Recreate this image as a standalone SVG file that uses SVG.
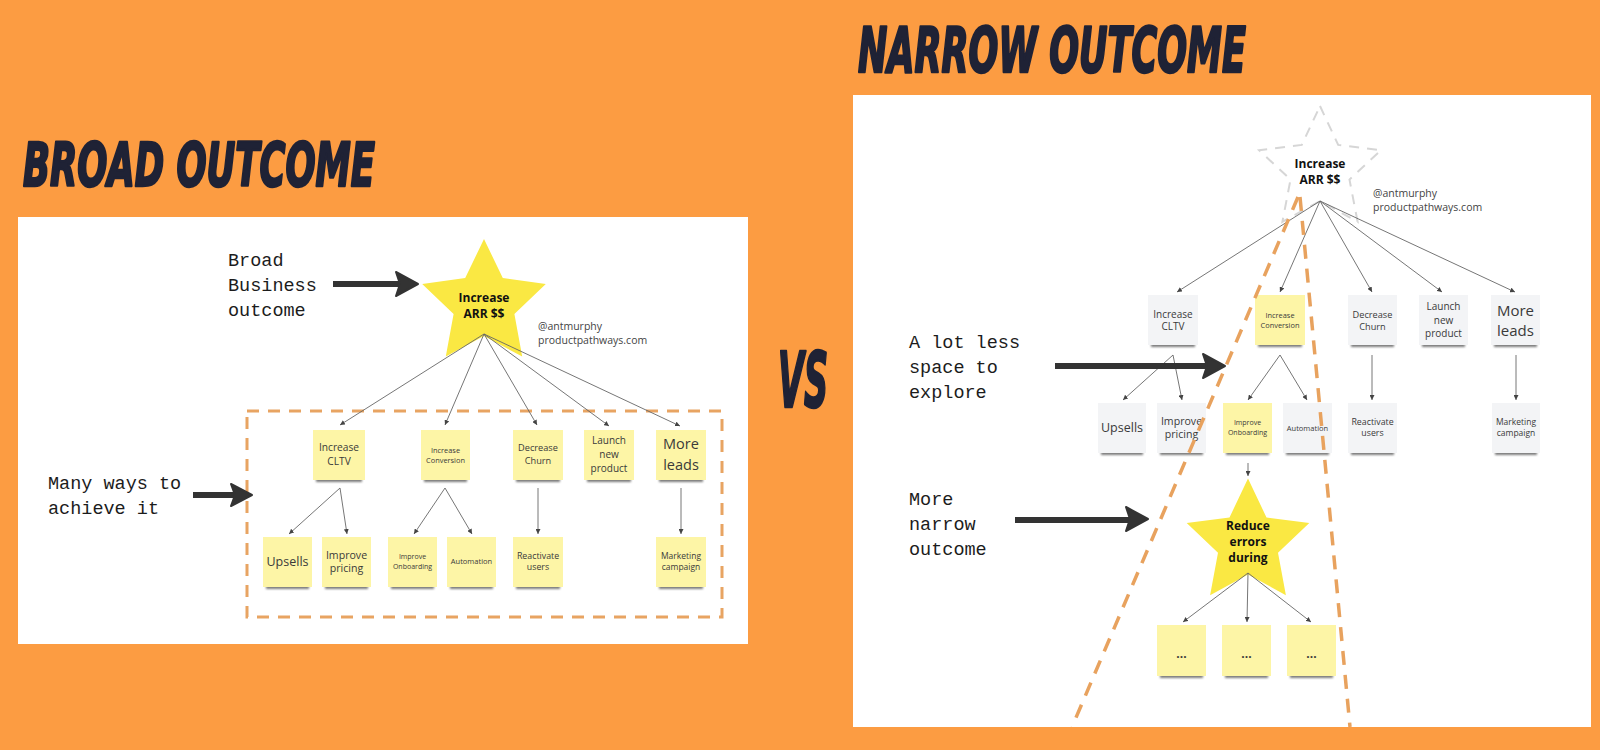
<svg xmlns="http://www.w3.org/2000/svg" width="1600" height="750" viewBox="0 0 1600 750">
<defs>
<style>
.title{font-family:"DejaVu Sans Condensed","DejaVu Sans",sans-serif;font-weight:bold;font-style:italic;font-stretch:condensed;fill:#1F2235;stroke:#1F2235;stroke-width:2.5;stroke-linejoin:round}
.mono{font-family:"Liberation Mono","DejaVu Sans Mono",monospace;font-size:18.5px;fill:#1c1c1c}
.st{font-family:"Open Sans","Noto Sans",sans-serif;fill:#3a3a3a;text-anchor:middle}
.sb{font-family:"Open Sans","Noto Sans",sans-serif;font-weight:bold;fill:#111;text-anchor:middle}
.handle{font-family:"Open Sans","Noto Sans",sans-serif;font-size:10.5px;fill:#444}
.y{fill:#FDF5A6}
.g{fill:#F3F4F6}
.sh{fill:#444;opacity:.7;filter:url(#blur)}
.conn line{stroke:#666;stroke-width:0.9;marker-end:url(#ah)}
.big line{stroke:#333;stroke-width:6}
.big path{fill:#333;stroke:#333;stroke-width:2;stroke-linejoin:round}
.dash{fill:none;stroke:#E8A462;stroke-width:3;stroke-dasharray:12 9}
.funnel{fill:none;stroke:#E8A25E;stroke-width:3.5;stroke-dasharray:14 10}
</style>
<filter id="blur" x="-20%" y="-100%" width="140%" height="300%"><feGaussianBlur stdDeviation="1.3"/></filter>
<marker id="ah" viewBox="0 0 6 6" refX="6" refY="3" markerWidth="5" markerHeight="5" markerUnits="userSpaceOnUse" orient="auto"><path d="M0,0 L6,3 L0,6 Z" fill="#444"/></marker>
</defs>

<rect x="0" y="0" width="1600" height="750" fill="#FC9C42"/>

<!-- Titles -->
<text id="title-broad" class="title" x="23" y="186" font-size="60" textLength="352" lengthAdjust="spacingAndGlyphs">BROAD OUTCOME</text>
<text id="title-narrow" class="title" x="858" y="72" font-size="63" textLength="388" lengthAdjust="spacingAndGlyphs">NARROW OUTCOME</text>
<text id="vs" class="title" x="778" y="407" font-size="76" textLength="50" lengthAdjust="spacingAndGlyphs">VS</text>

<!-- Left panel -->
<rect id="left-panel" x="18" y="217" width="730" height="427" fill="#fff"/>
<rect id="broad-box" class="dash" x="247" y="411" width="475" height="206"/>

<g id="label-broad">
<text class="mono" x="228" y="266">Broad</text>
<text class="mono" x="228" y="291">Business</text>
<text class="mono" x="228" y="316">outcome</text>
</g>
<g id="label-many">
<text class="mono" x="48" y="489">Many ways to</text>
<text class="mono" x="48" y="514">achieve it</text>
</g>

<g id="star-left">
<path d="M484,239 L502.8,278.1 L545.8,283.9 L514.4,313.9 L522.2,356.6 L484,336 L445.8,356.6 L453.6,313.9 L422.2,283.9 L465.2,278.1 Z" fill="#FAE843"/>
<text class="sb" x="484" y="302" font-size="12">Increase</text>
<text class="sb" x="484" y="318" font-size="12">ARR $$</text>
</g>
<g id="handle-left">
<text class="handle" x="538" y="330">@antmurphy</text>
<text class="handle" x="538" y="344">productpathways.com</text>
</g>

<g id="l-cltv"><rect class="sh" x="316" y="477" width="46" height="5"/><rect class="y" x="313" y="430" width="52" height="50"/>
<text class="st" x="339" y="450.5" font-size="10.2">Increase</text><text class="st" x="339" y="464.5" font-size="10.2">CLTV</text></g>
<g id="l-conv"><rect class="sh" x="424" y="477" width="43" height="5"/><rect class="y" x="421" y="430" width="49" height="50"/>
<text class="st" x="445.5" y="452.6" font-size="7.4">Increase</text><text class="st" x="445.5" y="462.6" font-size="7.4">Conversion</text></g>
<g id="l-churn"><rect class="sh" x="516" y="477" width="44" height="5"/><rect class="y" x="513" y="430" width="50" height="50"/>
<text class="st" x="538" y="451" font-size="9.2">Decrease</text><text class="st" x="538" y="464" font-size="9.2">Churn</text></g>
<g id="l-launch"><rect class="sh" x="587" y="477" width="44" height="5"/><rect class="y" x="584" y="430" width="50" height="50"/>
<text class="st" x="609" y="443.5" font-size="10">Launch</text><text class="st" x="609" y="457.5" font-size="10">new</text><text class="st" x="609" y="471.5" font-size="10">product</text></g>
<g id="l-leads"><rect class="sh" x="659" y="477" width="44" height="5"/><rect class="y" x="656" y="430" width="50" height="50"/>
<text class="st" x="681" y="449" font-size="14.5">More</text><text class="st" x="681" y="470" font-size="14.5">leads</text></g>

<g id="l-upsells"><rect class="sh" x="266" y="584" width="43" height="5"/><rect class="y" x="263" y="537" width="49" height="50"/>
<text class="st" x="287.5" y="566" font-size="12.5">Upsells</text></g>
<g id="l-pricing"><rect class="sh" x="325" y="584" width="43" height="5"/><rect class="y" x="322" y="537" width="49" height="50"/>
<text class="st" x="346.5" y="559" font-size="10.6">Improve</text><text class="st" x="346.5" y="572" font-size="10.6">pricing</text></g>
<g id="l-onboard"><rect class="sh" x="391" y="584" width="43" height="5"/><rect class="y" x="388" y="537" width="49" height="50"/>
<text class="st" x="412.5" y="559" font-size="7">Improve</text><text class="st" x="412.5" y="568.5" font-size="7">Onboarding</text></g>
<g id="l-auto"><rect class="sh" x="450" y="584" width="43" height="5"/><rect class="y" x="447" y="537" width="49" height="50"/>
<text class="st" x="471.5" y="564.3" font-size="7.5">Automation</text></g>
<g id="l-react"><rect class="sh" x="516" y="584" width="44" height="5"/><rect class="y" x="513" y="537" width="50" height="50"/>
<text class="st" x="538" y="558.7" font-size="8.8">Reactivate</text><text class="st" x="538" y="570.3" font-size="8.8">users</text></g>
<g id="l-mkt"><rect class="sh" x="659" y="584" width="44" height="5"/><rect class="y" x="656" y="537" width="50" height="50"/>
<text class="st" x="681" y="558.7" font-size="8.5">Marketing</text><text class="st" x="681" y="570.3" font-size="8.5">campaign</text></g>

<g id="connectors-left" class="conn">
<line x1="484" y1="334" x2="340" y2="425"/>
<line x1="484" y1="334" x2="445" y2="425"/>
<line x1="484" y1="334" x2="537" y2="425"/>
<line x1="484" y1="334" x2="609" y2="426"/>
<line x1="484" y1="334" x2="680" y2="426"/>
<line x1="340" y1="488" x2="289" y2="534"/>
<line x1="340" y1="488" x2="347" y2="534"/>
<line x1="445" y1="488" x2="414" y2="534"/>
<line x1="445" y1="488" x2="472" y2="534"/>
<line x1="538" y1="488" x2="538" y2="534"/>
<line x1="681" y1="488" x2="681" y2="534"/>
</g>

<g id="big-arrows-left" class="big">
<line x1="333" y1="284" x2="402" y2="284"/>
<path d="M418,284 L396,272 L400,284 L396,296 Z"/>
<line x1="193" y1="495" x2="236" y2="495"/>
<path d="M252,495 L231,484 L235,495 L231,506 Z"/>
</g>

<!-- Right panel -->
<rect id="right-panel" x="853" y="95" width="738" height="632" fill="#fff"/>

<g id="label-space">
<text class="mono" x="909" y="348">A lot less</text>
<text class="mono" x="909" y="373">space to</text>
<text class="mono" x="909" y="398">explore</text>
</g>
<g id="label-narrow">
<text class="mono" x="909" y="505">More</text>
<text class="mono" x="909" y="530">narrow</text>
<text class="mono" x="909" y="555">outcome</text>
</g>

<g id="star-right">
<path d="M1320,106 L1338.2,144.9 L1380.9,150.2 L1349.5,179.6 L1357.6,221.8 L1320,201 L1282.4,221.8 L1290.5,179.6 L1259.1,150.2 L1301.8,144.9 Z" fill="none" stroke="#D6D6D6" stroke-width="2" stroke-dasharray="10 8"/>
<text class="sb" x="1320" y="167.5" font-size="12">Increase</text>
<text class="sb" x="1320" y="183.5" font-size="12">ARR $$</text>
</g>
<g id="handle-right">
<text class="handle" x="1373" y="197">@antmurphy</text>
<text class="handle" x="1373" y="211">productpathways.com</text>
</g>

<g id="r-cltv"><rect class="sh" x="1151" y="342" width="44" height="5"/><rect class="g" x="1148" y="295" width="50" height="50"/>
<text class="st" x="1173" y="317.5" font-size="10">Increase</text><text class="st" x="1173" y="330" font-size="10">CLTV</text></g>
<g id="r-conv"><rect class="sh" x="1258" y="342" width="44" height="5"/><rect class="y" x="1255" y="295" width="50" height="50"/>
<text class="st" x="1280" y="317.6" font-size="7.4">Increase</text><text class="st" x="1280" y="327.6" font-size="7.4">Conversion</text></g>
<g id="r-churn"><rect class="sh" x="1351" y="342" width="43" height="5"/><rect class="g" x="1348" y="295" width="49" height="50"/>
<text class="st" x="1372.5" y="317.5" font-size="9.2">Decrease</text><text class="st" x="1372.5" y="329.5" font-size="9.2">Churn</text></g>
<g id="r-launch"><rect class="sh" x="1422" y="342" width="43" height="5"/><rect class="g" x="1419" y="295" width="49" height="50"/>
<text class="st" x="1443.5" y="310" font-size="10">Launch</text><text class="st" x="1443.5" y="323.5" font-size="10">new</text><text class="st" x="1443.5" y="337" font-size="10">product</text></g>
<g id="r-leads"><rect class="sh" x="1494" y="342" width="43" height="5"/><rect class="g" x="1491" y="295" width="49" height="50"/>
<text class="st" x="1515.5" y="316" font-size="15">More</text><text class="st" x="1515.5" y="336" font-size="15">leads</text></g>

<g id="r-upsells"><rect class="sh" x="1101" y="450" width="42" height="5"/><rect class="g" x="1098" y="403" width="48" height="50"/>
<text class="st" x="1122" y="432" font-size="12.5">Upsells</text></g>
<g id="r-pricing"><rect class="sh" x="1160" y="450" width="43" height="5"/><rect class="g" x="1157" y="403" width="49" height="50"/>
<text class="st" x="1181.5" y="424.5" font-size="10.6">Improve</text><text class="st" x="1181.5" y="438" font-size="10.6">pricing</text></g>
<g id="r-onboard"><rect class="sh" x="1226" y="450" width="43" height="5"/><rect class="y" x="1223" y="403" width="49" height="50"/>
<text class="st" x="1247.5" y="425" font-size="7">Improve</text><text class="st" x="1247.5" y="434.5" font-size="7">Onboarding</text></g>
<g id="r-auto"><rect class="sh" x="1286" y="450" width="43" height="5"/><rect class="g" x="1283" y="403" width="49" height="50"/>
<text class="st" x="1307.5" y="431" font-size="7.5">Automation</text></g>
<g id="r-react"><rect class="sh" x="1351" y="450" width="43" height="5"/><rect class="g" x="1348" y="403" width="49" height="50"/>
<text class="st" x="1372.5" y="424.7" font-size="8.8">Reactivate</text><text class="st" x="1372.5" y="436.3" font-size="8.8">users</text></g>
<g id="r-mkt"><rect class="sh" x="1495" y="450" width="42" height="5"/><rect class="g" x="1492" y="403" width="48" height="50"/>
<text class="st" x="1516" y="424.7" font-size="8.5">Marketing</text><text class="st" x="1516" y="436.3" font-size="8.5">campaign</text></g>

<g id="star-reduce">
<path d="M1248,478.5 L1266.5,517.5 L1309.3,523.1 L1278,552.7 L1285.9,595.2 L1248,574.5 L1210.1,595.2 L1218,552.7 L1186.7,523.1 L1229.5,517.5 Z" fill="#FAE843"/>
<text class="sb" x="1248" y="530" font-size="12">Reduce</text>
<text class="sb" x="1248" y="546" font-size="12">errors</text>
<text class="sb" x="1248" y="562" font-size="12">during</text>
</g>

<g id="r-dots1"><rect class="sh" x="1160" y="673" width="43" height="5"/><rect class="y" x="1157" y="625" width="49" height="51"/>
<text class="st" x="1181.5" y="658" font-size="12" font-weight="bold" fill="#222">...</text></g>
<g id="r-dots2"><rect class="sh" x="1225" y="673" width="43" height="5"/><rect class="y" x="1222" y="625" width="49" height="51"/>
<text class="st" x="1246.5" y="658" font-size="12" font-weight="bold" fill="#222">...</text></g>
<g id="r-dots3"><rect class="sh" x="1290" y="673" width="43" height="5"/><rect class="y" x="1287" y="625" width="49" height="51"/>
<text class="st" x="1311.5" y="658" font-size="12" font-weight="bold" fill="#222">...</text></g>

<g id="connectors-right" class="conn">
<line x1="1320" y1="201" x2="1177" y2="292"/>
<line x1="1320" y1="201" x2="1280" y2="292"/>
<line x1="1320" y1="201" x2="1372" y2="292"/>
<line x1="1320" y1="201" x2="1442" y2="292"/>
<line x1="1320" y1="201" x2="1515" y2="292"/>
<line x1="1173" y1="355" x2="1123" y2="400"/>
<line x1="1173" y1="355" x2="1182" y2="400"/>
<line x1="1280" y1="355" x2="1248" y2="400"/>
<line x1="1280" y1="355" x2="1307" y2="400"/>
<line x1="1372" y1="355" x2="1372" y2="400"/>
<line x1="1516" y1="355" x2="1516" y2="400"/>
<line x1="1248" y1="463" x2="1248" y2="476"/>
<line x1="1248" y1="573" x2="1183" y2="622"/>
<line x1="1248" y1="573" x2="1247" y2="622"/>
<line x1="1248" y1="573" x2="1311" y2="622"/>
</g>

<g id="funnel-lines">
<line class="funnel" x1="1298" y1="197" x2="1072" y2="727"/>
<line class="funnel" x1="1300" y1="197" x2="1350" y2="727"/>
</g>

<g id="big-arrows-right" class="big">
<line x1="1055" y1="366" x2="1209" y2="366"/>
<path d="M1225,366 L1203,354 L1207,366 L1203,378 Z"/>
<line x1="1015" y1="520" x2="1132" y2="520"/>
<path d="M1148,519 L1126,507 L1130,519 L1126,531 Z"/>
</g>
</svg>
